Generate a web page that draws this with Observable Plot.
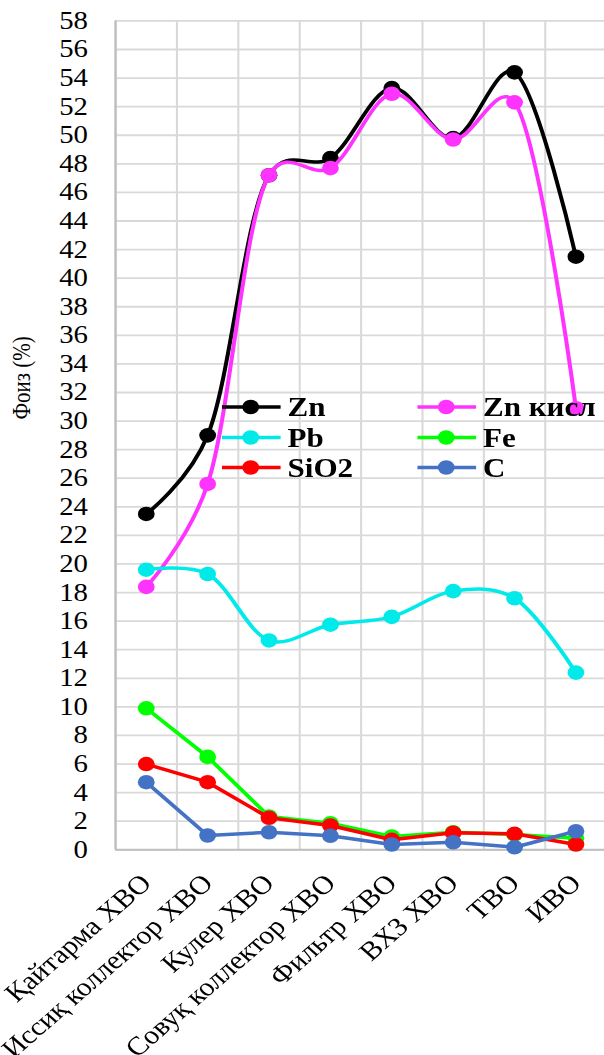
<!DOCTYPE html>
<html><head><meta charset="utf-8">
<script src="https://cdn.jsdelivr.net/npm/d3@7"></script>
<script src="https://cdn.jsdelivr.net/npm/@observablehq/plot@0.6"></script>
<style>
html,body{margin:0;padding:0;background:#fff;overflow:hidden;}
#wrap{position:relative;width:525px;height:1055px;transform:scaleX(1.15);transform-origin:0 0;}
#legend{position:absolute;left:0;top:0;}
</style></head><body><div id="wrap"></div>
<script>
const categories = ["Қайтарма ХВО","Иссиқ коллектор ХВО","Кулер ХВО","Совуқ коллектор ХВО","Фильтр ХВО","ВХЗ ХВО","ТВО","ИВО"];
const seriesNames = ["Zn","Zn кисл","Pb","Fe","SiO2","C"];
const seriesColors = ["#000000","#ff33ff","#00eaea","#00ff00","#ff0000","#4472c4"];
const smoothSeries = ["Zn","Zn кисл","Pb"];
const zn     = [23.5, 29.0, 47.2, 48.4, 53.3, 49.8, 54.4, 41.5];
const znKisl = [18.4, 25.6, 47.2, 47.7, 52.9, 49.7, 52.3, 30.9];
const pb     = [19.6, 19.3, 14.65, 15.75, 16.3, 18.1, 17.6, 12.4];
const fe     = [9.9, 6.5, 2.33, 1.86, 0.93, 1.23, 1.07, 0.81];
const sio2   = [6.0, 4.73, 2.24, 1.7, 0.7, 1.19, 1.12, 0.37];
const c      = [4.73, 1.0, 1.23, 0.98, 0.37, 0.53, 0.18, 1.3];
const yTicks = d3.range(0, 59, 2);
const yLabel = "Фоиз (%)";

const valuesBySeries = [zn, znKisl, pb, fe, sio2, c];
const data = seriesNames.flatMap((s, si) => valuesBySeries[si].map((v, i) => ({series: s, i, v})));
const bounds = d3.range(categories.length + 1).map(k => k - 0.5);
const serif = "'Liberation Serif', 'Times New Roman', serif";

const marks = [
  Plot.ruleY(yTicks, {stroke: "#d9d9d9", strokeWidth: 1.8}),
  Plot.ruleX(bounds, {stroke: "#d9d9d9", strokeWidth: 1.8}),
  Plot.ruleX([bounds[0]], {stroke: "#bfbfbf", strokeWidth: 2}),
  Plot.ruleY([0], {stroke: "#bfbfbf", strokeWidth: 2}),
];
seriesNames.forEach((s, si) => {
  const d = data.filter(r => r.series === s);
  const curve = smoothSeries.includes(s) ? d3.curveCatmullRom.alpha(0.2) : "linear";
  marks.push(Plot.line(d, {x: "i", y: "v", stroke: seriesColors[si], strokeWidth: 3.5, curve}));
  marks.push(Plot.dot(d, {x: "i", y: "v", fill: seriesColors[si], r: 7.3}));
});
marks.push(Plot.axisY({ticks: yTicks, tickSize: 0, tickPadding: 24, fontSize: 25, label: null}));
marks.push(Plot.text(categories, {x: (d, i) => i, frameAnchor: "bottom", text: d => d, rotate: -45,
  textAnchor: "end", lineAnchor: "middle", dy: 29, dx: 0, fontSize: 26, fill: "#000"}));
marks.push(Plot.text([yLabel], {frameAnchor: "top-left", dx: -81, dy: 357, rotate: -90, textAnchor: "middle",
  lineAnchor: "middle", fontSize: 21, fill: "#000"}));

const chart = Plot.plot({
  width: 525, height: 1055,
  marginLeft: 100, marginRight: -2, marginTop: 20.4, marginBottom: 205.7,
  style: {fontFamily: serif, background: "#fff", overflow: "visible"},
  x: {type: "linear", domain: [bounds[0], bounds[bounds.length - 1]], axis: null},
  y: {domain: [0, 58], axis: null},
  marks
});
const wrap = document.getElementById("wrap");
wrap.appendChild(chart);

// legend overlay (inside plot area, two columns)
const lg = d3.select(wrap).append("svg").attr("id", "legend").attr("width", 525).attr("height", 1055)
  .style("font-family", serif);
const colX = [193, 363], rowY = [407, 437.5, 467.5];
seriesNames.forEach((s, si) => {
  const cx = colX[si % 2], cy = rowY[Math.floor(si / 2)];
  const g = lg.append("g").attr("transform", `translate(${cx},${cy})`);
  g.append("line").attr("x1", 0).attr("x2", 51).attr("stroke", seriesColors[si]).attr("stroke-width", 3.5);
  g.append("circle").attr("cx", 25).attr("r", 7.3).attr("fill", seriesColors[si]);
  g.append("text").attr("x", 57).attr("dy", "0.34em").attr("font-size", 27).attr("font-weight", "bold").text(s);
});
</script></body></html>
